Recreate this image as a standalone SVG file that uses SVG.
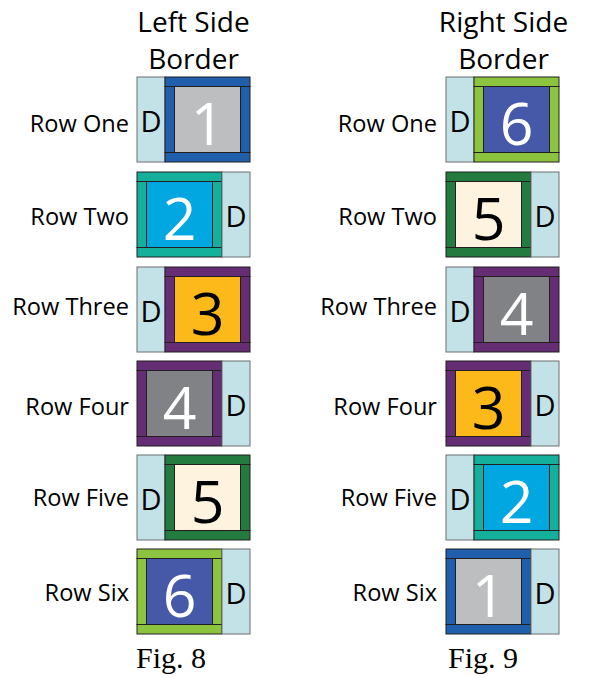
<svg xmlns="http://www.w3.org/2000/svg" width="590" height="677" viewBox="0 0 590 677">
<style>
.bg{fill:#ffffff}
.d{fill:#c3e2e8;stroke:#6d6e71;stroke-width:1}
.fr{stroke:#231f20;stroke-width:1}
.lbl{font-family:"Open Sans","Liberation Sans",sans-serif;font-size:23.6px;fill:#000;text-anchor:end}
.ttl{font-family:"Open Sans","Liberation Sans",sans-serif;font-size:28px;fill:#000;text-anchor:middle}
.dl{font-family:"Open Sans","Liberation Sans",sans-serif;font-size:29px;fill:#000;text-anchor:middle}
.num{font-family:"Open Sans","Liberation Sans",sans-serif;font-size:59px;font-weight:400;text-anchor:middle}
.w{fill:#ffffff}
.k{fill:#000000}
.fig{font-family:"Liberation Serif","Times New Roman",serif;font-size:30px;fill:#000}
.b1{fill:#1f5fab}.i1{fill:#bcbec0}
.b2{fill:#14b09c}.i2{fill:#00a7e1}
.b3{fill:#652d74}.i3{fill:#fdb91a}
.i4{fill:#808285}
.b5{fill:#237b40}.i5{fill:#fef3df}
.b6{fill:#8dc43f}.i6{fill:#4559a8}
</style>
<defs>
<g id="frame">
<rect x="0" y="0" width="85" height="9.5" class="fr"/>
<rect x="0" y="75.5" width="85" height="9.5" class="fr"/>
<rect x="0" y="9.5" width="9.5" height="66" class="fr"/>
<rect x="75.5" y="9.5" width="9.5" height="66" class="fr"/>
</g>
</defs>
<rect class="bg" x="0" y="0" width="590" height="677"/>

<g id="titles">
<text class="ttl" x="193.5" y="32">Left Side</text>
<text class="ttl" x="193.5" y="68.5">Border</text>
<text class="ttl" x="503.5" y="32">Right Side</text>
<text class="ttl" x="503.5" y="68.5">Border</text>
</g>

<g id="connectors"></g>

<!-- Left column -->
<g id="L1" transform="translate(137,77)">
<text class="lbl" x="-8" y="54.5">Row One</text>
<rect class="d" x="0" y="0" width="28" height="85"/>
<text class="dl" x="14" y="55.3">D</text>
<g transform="translate(28,0)" class="b1"><use href="#frame"/></g>
<rect class="fr i1" x="37.5" y="9.5" width="66" height="66"/>
<text class="num w" x="70.5" y="68">1</text>
</g>

<g id="L2" transform="translate(137,172)">
<text class="lbl" x="-8" y="52.5">Row Two</text>
<g class="b2"><use href="#frame"/></g>
<rect class="fr i2" x="9.5" y="9.5" width="66" height="66"/>
<text class="num w" x="42.5" y="68">2</text>
<rect class="d" x="85" y="0" width="28" height="85"/>
<text class="dl" x="99" y="55.3">D</text>
</g>

<g id="L3" transform="translate(137,267)">
<text class="lbl" x="-8" y="47.5">Row Three</text>
<rect class="d" x="0" y="0" width="28" height="85"/>
<text class="dl" x="14" y="55.3">D</text>
<g transform="translate(28,0)" class="b3"><use href="#frame"/></g>
<rect class="fr i3" x="37.5" y="9.5" width="66" height="66"/>
<text class="num k" x="70.5" y="68">3</text>
</g>

<g id="L4" transform="translate(137,361)">
<text class="lbl" x="-8" y="53.5">Row Four</text>
<g class="b3"><use href="#frame"/></g>
<rect class="fr i4" x="9.5" y="9.5" width="66" height="66"/>
<text class="num w" x="42.5" y="68">4</text>
<rect class="d" x="85" y="0" width="28" height="85"/>
<text class="dl" x="99" y="55.3">D</text>
</g>

<g id="L5" transform="translate(137,455)">
<text class="lbl" x="-8" y="50.5">Row Five</text>
<rect class="d" x="0" y="0" width="28" height="85"/>
<text class="dl" x="14" y="55.3">D</text>
<g transform="translate(28,0)" class="b5"><use href="#frame"/></g>
<rect class="fr i5" x="37.5" y="9.5" width="66" height="66"/>
<text class="num k" x="70.5" y="68">5</text>
</g>

<g id="L6" transform="translate(137,549)">
<text class="lbl" x="-8" y="51.5">Row Six</text>
<g class="b6"><use href="#frame"/></g>
<rect class="fr i6" x="9.5" y="9.5" width="66" height="66"/>
<text class="num w" x="42.5" y="68">6</text>
<rect class="d" x="85" y="0" width="28" height="85"/>
<text class="dl" x="99" y="55.3">D</text>
</g>

<!-- Right column -->
<g id="R1" transform="translate(446,77)">
<text class="lbl" x="-9" y="54.5">Row One</text>
<rect class="d" x="0" y="0" width="28" height="85"/>
<text class="dl" x="14" y="55.3">D</text>
<g transform="translate(28,0)" class="b6"><use href="#frame"/></g>
<rect class="fr i6" x="37.5" y="9.5" width="66" height="66"/>
<text class="num w" x="70.5" y="68">6</text>
</g>

<g id="R2" transform="translate(446,172)">
<text class="lbl" x="-9" y="52.5">Row Two</text>
<g class="b5"><use href="#frame"/></g>
<rect class="fr i5" x="9.5" y="9.5" width="66" height="66"/>
<text class="num k" x="42.5" y="68">5</text>
<rect class="d" x="85" y="0" width="28" height="85"/>
<text class="dl" x="99" y="55.3">D</text>
</g>

<g id="R3" transform="translate(446,267)">
<text class="lbl" x="-9" y="47.5">Row Three</text>
<rect class="d" x="0" y="0" width="28" height="85"/>
<text class="dl" x="14" y="55.3">D</text>
<g transform="translate(28,0)" class="b3"><use href="#frame"/></g>
<rect class="fr i4" x="37.5" y="9.5" width="66" height="66"/>
<text class="num w" x="70.5" y="68">4</text>
</g>

<g id="R4" transform="translate(446,361)">
<text class="lbl" x="-9" y="53.5">Row Four</text>
<g class="b3"><use href="#frame"/></g>
<rect class="fr i3" x="9.5" y="9.5" width="66" height="66"/>
<text class="num k" x="42.5" y="68">3</text>
<rect class="d" x="85" y="0" width="28" height="85"/>
<text class="dl" x="99" y="55.3">D</text>
</g>

<g id="R5" transform="translate(446,455)">
<text class="lbl" x="-9" y="50.5">Row Five</text>
<rect class="d" x="0" y="0" width="28" height="85"/>
<text class="dl" x="14" y="55.3">D</text>
<g transform="translate(28,0)" class="b2"><use href="#frame"/></g>
<rect class="fr i2" x="37.5" y="9.5" width="66" height="66"/>
<text class="num w" x="70.5" y="68">2</text>
</g>

<g id="R6" transform="translate(446,549)">
<text class="lbl" x="-9" y="51.5">Row Six</text>
<g class="b1"><use href="#frame"/></g>
<rect class="fr i1" x="9.5" y="9.5" width="66" height="66"/>
<text class="num w" x="42.5" y="68">1</text>
<rect class="d" x="85" y="0" width="28" height="85"/>
<text class="dl" x="99" y="55.3">D</text>
</g>

<g id="captions">
<text class="fig" x="136" y="668">Fig. 8</text>
<text class="fig" x="448" y="668">Fig. 9</text>
</g>
</svg>
